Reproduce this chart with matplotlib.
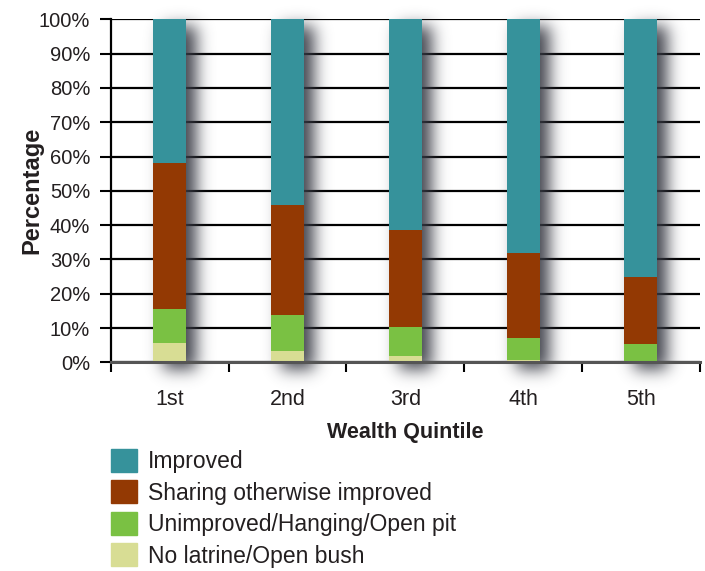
import math
import numpy as np
import matplotlib
matplotlib.use("Agg")
import matplotlib.pyplot as plt
from matplotlib.patches import Patch

plt.rcParams['font.family'] = ['Liberation Sans', 'DejaVu Sans']
TXT = '#231f20'

quintiles = ['1st', '2nd', '3rd', '4th', '5th']
no_latrine = [5.5, 3.3, 1.8, 0.7, 0.0]
unimproved = [9.9, 10.5, 8.5, 6.4, 5.4]
sharing = [42.7, 32.1, 28.3, 24.8, 19.5]
improved = [100 - a - b - c for a, b, c in zip(no_latrine, unimproved, sharing)]

series = [
    ('No latrine/Open bush', no_latrine, '#d8dd94'),
    ('Unimproved/Hanging/Open pit', unimproved, '#7ac143'),
    ('Sharing otherwise improved', sharing, '#933903'),
    ('Improved', improved, '#36929b'),
]

W, H = 705, 571
fig = plt.figure(figsize=(W / 100, H / 100), dpi=100)
ax = fig.add_axes([111 / W, 1 - 362.3 / H, 588.6 / W, 343 / H])

x = np.arange(len(quintiles))
width = 0.28
bottom = np.zeros(len(quintiles))
for name, vals, col in series:
    ax.bar(x, vals, width, bottom=bottom, color=col, zorder=3, label=name)
    bottom += np.array(vals)

ax.set_xlim(-0.5, len(quintiles) - 0.5)
ax.set_ylim(0, 100)

# blurred drop shadow behind each bar column
fig.canvas.draw()
px = np.arange(W) + 0.5
py = np.arange(H) + 0.5
erf = np.vectorize(math.erf)
sig, dx, dy, amax = 8.0, 10, -7, 0.95
alpha = np.zeros((H, W))
for xi, tot in zip(x, bottom):
    (x0, y0), (x1, y1) = ax.transData.transform([(xi - width / 2, 0), (xi + width / 2, tot)])
    fx = 0.5 * (erf((px - x0 - dx) / (sig * 2 ** 0.5)) - erf((px - x1 - dx) / (sig * 2 ** 0.5)))
    fy = 0.5 * (erf((py - y0 - dy) / (sig * 2 ** 0.5)) - erf((py - y1 - dy) / (sig * 2 ** 0.5)))
    alpha = np.maximum(alpha, np.outer(fy, fx))
img = np.zeros((H, W, 4))
img[..., 0], img[..., 1], img[..., 2] = 0.22, 0.23, 0.27
img[..., 3] = alpha * amax
inv = ax.transData.inverted()
(ex0, ey0), (ex1, ey1) = inv.transform([(0, 0), (W, H)])
ax.imshow(img, extent=[ex0, ex1, ey0, ey1], origin='lower', aspect='auto',
          interpolation='nearest', zorder=2, clip_on=False)
ax.set_xlim(-0.5, len(quintiles) - 0.5)
ax.set_ylim(0, 100)

ax.set_yticks(np.arange(0, 101, 10))
ax.set_yticklabels([f'{v}%' for v in range(0, 101, 10)])
ax.yaxis.grid(True, color='black', linewidth=1.6, zorder=1)
ax.set_axisbelow(True)
ax.set_xticks(np.arange(-0.5, len(quintiles), 1))
ax.set_xticklabels([])
ax.set_xticks(x, minor=True)
ax.set_xticklabels(quintiles, minor=True)
ax.tick_params(axis='x', which='minor', length=0, pad=19, labelsize=15.5, labelcolor=TXT)
ax.tick_params(axis='x', which='major', length=7, width=1.5, color='black')
ax.tick_params(axis='y', length=8, width=1.5, pad=7, labelsize=14.5, labelcolor=TXT)

for s in ['top', 'right']:
    ax.spines[s].set_visible(False)
ax.spines['left'].set_linewidth(1.6)
ax.spines['bottom'].set_color('#555555')
ax.spines['bottom'].set_linewidth(2.2)
ax.spines['bottom'].set_zorder(4)

ax.set_xlabel('Wealth Quintile', fontsize=15.5, fontweight='bold', color=TXT)
ax.xaxis.set_label_coords(0.5, -0.175)
ax.set_ylabel('Percentage', fontsize=17, fontweight='bold', color=TXT)
ax.yaxis.set_label_coords(-0.115, 0.5)

handles = [Patch(color=col, label=name) for name, vals, col in series][::-1]
fig.legend(handles=handles, loc='upper left', bbox_to_anchor=(111 / W, 1 - 449 / H),
           frameon=False, fontsize=16.5, handlelength=1.15, handleheight=1.15,
           handletextpad=0.45, labelspacing=0.32, borderpad=0, borderaxespad=0,
           labelcolor=TXT)

fig.savefig('out.png', dpi=100)
